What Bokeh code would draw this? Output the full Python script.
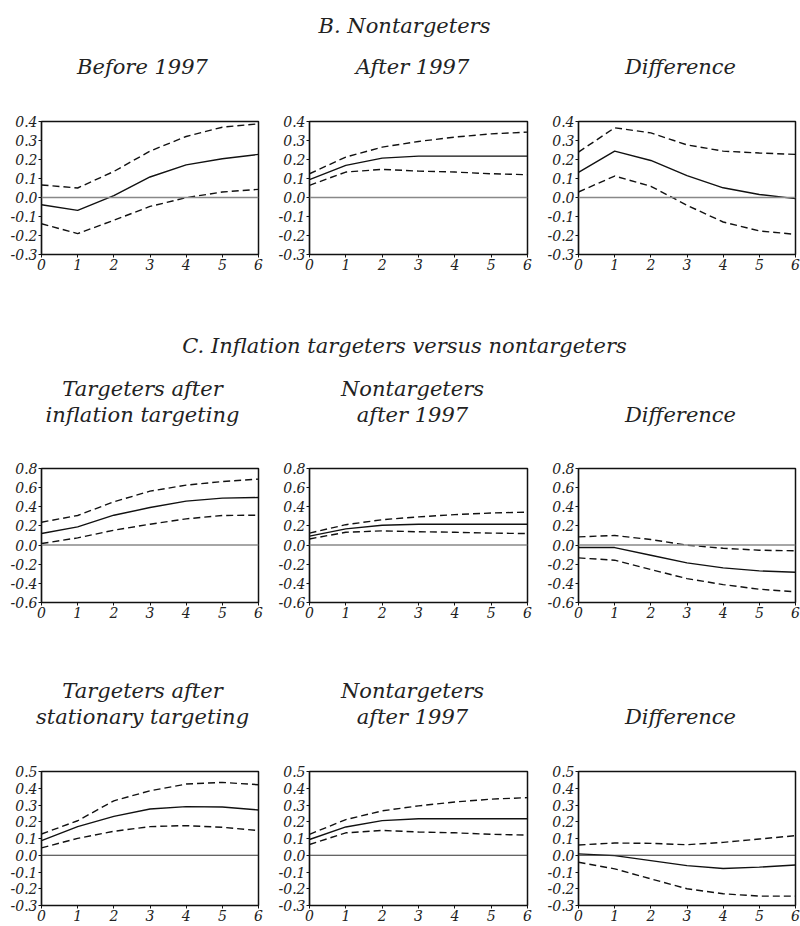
from bokeh.plotting import figure
from bokeh.layouts import column, row
from bokeh.models import Range1d, FixedTicker, PrintfTickFormatter, Span
from bokeh.core.properties import value
from bokeh.embed import file_html
from bokeh.resources import INLINE

horizon = [0, 1, 2, 3, 4, 5, 6]
x_ticks = [0, 1, 2, 3, 4, 5, 6]

# B. Nontargeters
nt_before_est = [-0.038, -0.068, 0.010, 0.108, 0.172, 0.204, 0.227]
nt_before_hi = [0.066, 0.050, 0.137, 0.244, 0.321, 0.370, 0.388]
nt_before_lo = [-0.138, -0.190, -0.120, -0.047, -0.001, 0.029, 0.043]

nt_after_est = [0.094, 0.169, 0.207, 0.218, 0.218, 0.218, 0.218]
nt_after_hi = [0.125, 0.213, 0.265, 0.295, 0.318, 0.335, 0.344]
nt_after_lo = [0.064, 0.134, 0.148, 0.139, 0.134, 0.125, 0.120]

nt_diff_est = [0.132, 0.244, 0.195, 0.115, 0.051, 0.016, -0.006]
nt_diff_hi = [0.239, 0.367, 0.340, 0.277, 0.244, 0.234, 0.227]
nt_diff_lo = [0.029, 0.113, 0.059, -0.041, -0.129, -0.176, -0.194]

# C. Inflation targeters versus nontargeters
it_after_est = [0.121, 0.190, 0.312, 0.392, 0.459, 0.490, 0.497]
it_after_hi = [0.239, 0.309, 0.452, 0.563, 0.626, 0.664, 0.689]
it_after_lo = [0.016, 0.075, 0.155, 0.218, 0.274, 0.309, 0.312]

it_diff_est = [-0.026, -0.026, -0.106, -0.186, -0.238, -0.270, -0.284]
it_diff_hi = [0.086, 0.100, 0.058, -0.001, -0.033, -0.054, -0.060]
it_diff_lo = [-0.134, -0.158, -0.256, -0.350, -0.413, -0.461, -0.489]

st_after_est = [0.087, 0.171, 0.232, 0.276, 0.290, 0.288, 0.270]
st_after_hi = [0.127, 0.206, 0.325, 0.385, 0.425, 0.435, 0.421]
st_after_lo = [0.044, 0.101, 0.143, 0.171, 0.177, 0.167, 0.147]

st_diff_est = [0.008, -0.002, -0.032, -0.062, -0.079, -0.071, -0.058]
st_diff_hi = [0.061, 0.073, 0.071, 0.063, 0.077, 0.097, 0.117]
st_diff_lo = [-0.042, -0.081, -0.141, -0.200, -0.230, -0.244, -0.244]

y_ticks_b = [-0.3, -0.2, -0.1, 0.0, 0.1, 0.2, 0.3, 0.4]
y_ticks_c1 = [-0.6, -0.4, -0.2, 0.0, 0.2, 0.4, 0.6, 0.8]
y_ticks_c2 = [-0.3, -0.2, -0.1, 0.0, 0.1, 0.2, 0.3, 0.4, 0.5]

heading_b = "B. Nontargeters"
heading_c = "C. Inflation targeters versus nontargeters"
titles_b = [["Before 1997"], ["After 1997"], ["Difference"]]
titles_c1 = [["Targeters after", "inflation targeting"], ["Nontargeters", "after 1997"], ["Difference"]]
titles_c2 = [["Targeters after", "stationary targeting"], ["Nontargeters", "after 1997"], ["Difference"]]

FONT = "DejaVu Serif"
TEXT_COLOR = "#222222"

# column geometry: (left border, frame width, right border)
cols = [(41, 217, 14), (37, 218, 12), (39, 217, 5)]
TOTAL_W = sum(a + b + c for a, b, c in cols)
# horizontal centres of the panel titles (slightly left of frame centres)
title_cx = [142, 412, 680]
HEAD_CX = 404
LINE_GAP = 26


def panel(col, est, hi, lo, yticks, frame_h, zero_color, zero_w, top=8, bottom=21):
    L, FW, R = cols[col]
    p = figure(width=L + FW + R, height=top + frame_h + bottom,
               x_range=Range1d(0, 6), y_range=Range1d(yticks[0], yticks[-1]),
               output_backend="svg", toolbar_location=None,
               min_border_left=L, min_border_right=R,
               min_border_top=top, min_border_bottom=bottom)
    p.xgrid.visible = False
    p.ygrid.visible = False
    p.outline_line_color = "#111111"
    p.outline_line_width = 1.5
    for ax in (p.xaxis[0], p.yaxis[0]):
        ax.major_label_text_font = FONT
        ax.major_label_text_font_style = "italic"
        ax.major_label_text_font_size = "14px"
        ax.major_label_text_color = TEXT_COLOR
        ax.axis_line_color = "#111111"
        ax.axis_line_width = 1.2
        ax.major_tick_line_color = "#111111"
        ax.major_tick_out = 3
        ax.major_tick_in = 0
        ax.minor_tick_line_color = None
        ax.major_label_standoff = 1
    p.xaxis.ticker = FixedTicker(ticks=x_ticks)
    p.yaxis.ticker = FixedTicker(ticks=yticks)
    p.yaxis.formatter = PrintfTickFormatter(format="%.1f")
    p.add_layout(Span(location=0, dimension="width", line_color=zero_color, line_width=zero_w))
    p.line(horizon, hi, line_color="#111111", line_width=1.4, line_dash="7 4")
    p.line(horizon, lo, line_color="#111111", line_width=1.4, line_dash="7 4")
    p.line(horizon, est, line_color="#111111", line_width=1.4)
    return p


def strip(height, heading, heading_y, titles, last_line_y):
    s = figure(width=TOTAL_W, height=height, x_range=Range1d(0, TOTAL_W),
               y_range=Range1d(height, 0), output_backend="svg", toolbar_location=None,
               min_border=0)
    s.axis.visible = False
    s.grid.visible = False
    s.outline_line_color = None
    xs, ys, txt = [], [], []
    if heading:
        xs.append(HEAD_CX)
        ys.append(heading_y)
        txt.append(heading)
    for cx, lines in zip(title_cx, titles):
        n = len(lines)
        for i, line in enumerate(lines):
            xs.append(cx)
            ys.append(last_line_y - (n - 1 - i) * LINE_GAP)
            txt.append(line)
    s.text(x=xs, y=ys, text=txt, text_align="center", text_baseline="middle",
           text_font=value(FONT), text_font_style="italic", text_font_size="21px",
           text_color=TEXT_COLOR)
    return s


strip_b = strip(113, heading_b, 25, titles_b, 66)
row_b = row(
    panel(0, nt_before_est, nt_before_hi, nt_before_lo, y_ticks_b, 133, "#888888", 1.6),
    panel(1, nt_after_est, nt_after_hi, nt_after_lo, y_ticks_b, 133, "#888888", 1.6),
    panel(2, nt_diff_est, nt_diff_hi, nt_diff_lo, y_ticks_b, 133, "#888888", 1.6),
)
strip_c1 = strip(185, heading_c, 70, titles_c1, 139)
row_c1 = row(
    panel(0, it_after_est, it_after_hi, it_after_lo, y_ticks_c1, 134, "#888888", 1.6),
    panel(1, nt_after_est, nt_after_hi, nt_after_lo, y_ticks_c1, 134, "#888888", 1.6),
    panel(2, it_diff_est, it_diff_hi, it_diff_lo, y_ticks_c1, 134, "#888888", 1.6),
)
strip_c2 = strip(140, None, 0, titles_c2, 93)
row_c2 = row(
    panel(0, st_after_est, st_after_hi, st_after_lo, y_ticks_c2, 134, "#333333", 1.0),
    panel(1, nt_after_est, nt_after_hi, nt_after_lo, y_ticks_c2, 134, "#333333", 1.0),
    panel(2, st_diff_est, st_diff_hi, st_diff_lo, y_ticks_c2, 134, "#333333", 1.0),
)

layout = column(strip_b, row_b, strip_c1, row_c1, strip_c2, row_c2)
open("out.html", "w").write(file_html(layout, INLINE))
